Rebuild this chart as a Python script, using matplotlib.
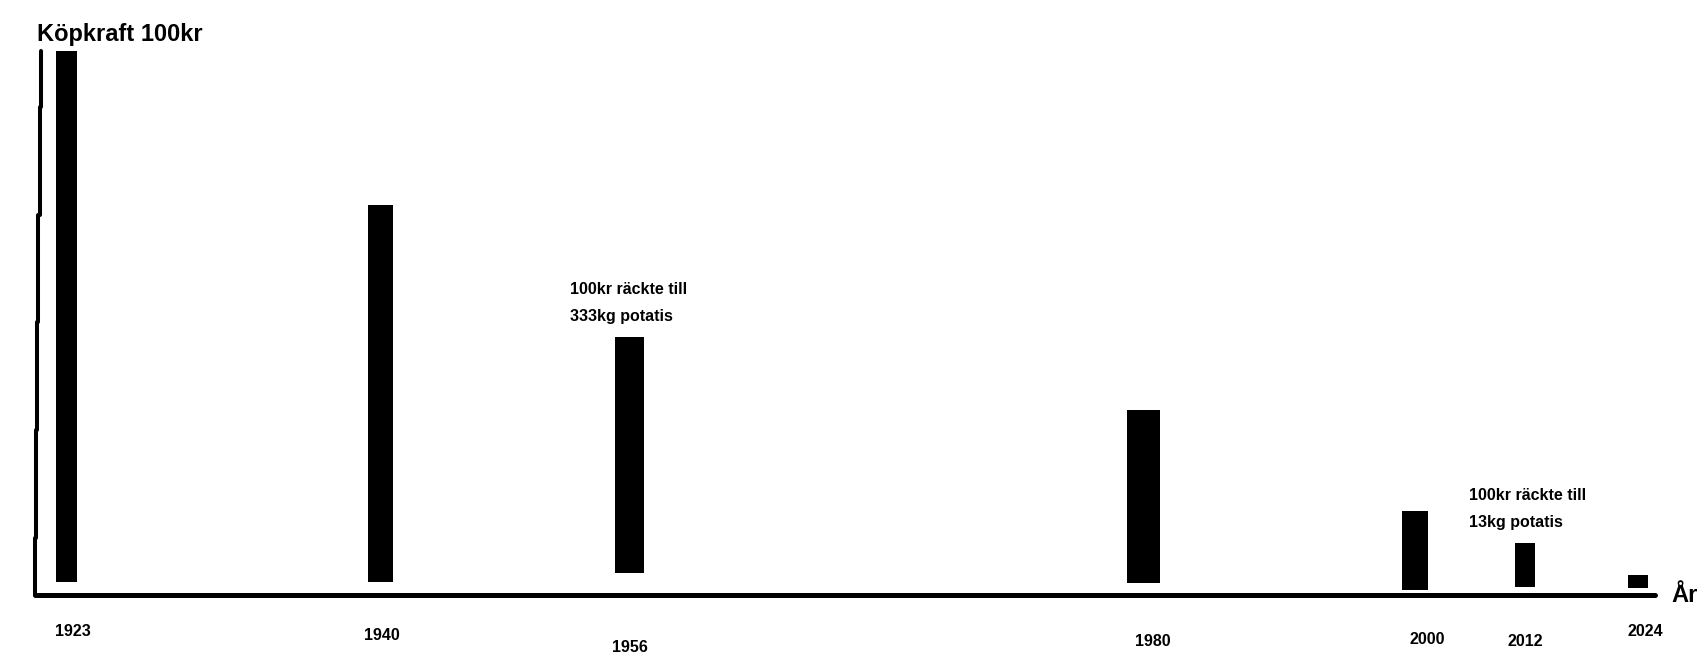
import matplotlib
matplotlib.use("Agg")
import matplotlib.pyplot as plt

plt.rcParams['font.family'] = ['Liberation Sans', 'DejaVu Sans']

# data (bar height in picture units)
years = ["1923", "1940", "1956", "1980", "2000", "2012", "2024"]
kopkraft = [531, 377, 236, 173, 79, 44, 13]

# hand drawn layout (pixel positions, y from top)
bar_x = [66.5, 380.5, 629.5, 1143.5, 1415, 1525, 1638]
bar_w = [21, 25, 29, 33, 26, 20, 20]
bar_base = [582, 582, 573, 583, 590, 587, 588]
label_x = [73, 382, 630, 1153, 1427, 1525, 1645]
label_y = [632, 636, 647, 642, 639, 642, 631]

# y axis drawn in a few shaky strokes
yaxis_x = [41.5, 40, 38.5, 37.5, 36.5, 35, 35]
yaxis_y = [51, 107, 215, 322, 430, 538, 595]

W, H = 1708, 665
fig = plt.figure(figsize=(W / 100, H / 100), dpi=100)
ax = fig.add_axes([0, 0, 1, 1])
ax.set_xlim(0, W)
ax.set_ylim(H, 0)
ax.axis('off')

#bars
ax.bar(bar_x, [-v for v in kopkraft], width=bar_w, bottom=bar_base, color='black')

#axes lines
for i in range(len(yaxis_x) - 1):
    ax.plot([yaxis_x[i], yaxis_x[i]], [yaxis_y[i], yaxis_y[i + 1]], color='black',
            lw=2.9, solid_capstyle='round')
ax.plot([35, 1655], [594.5, 594.5], color='black', lw=3.6, solid_capstyle='round')

#year labels
for x, y, t in zip(label_x, label_y, years):
    ax.text(x, y, t, ha='center', va='center', fontsize=11.5, fontweight='bold')

#titles
ax.text(37, 35, "Köpkraft 100kr", ha='left', va='center', fontsize=17, fontweight='bold')
ax.text(1671, 596, "År", ha='left', va='center', fontsize=17, fontweight='bold')

#notes
ax.text(570, 290, "100kr räckte till", ha='left', va='center', fontsize=11.5, fontweight='bold')
ax.text(570, 317, "333kg potatis", ha='left', va='center', fontsize=11.5, fontweight='bold')
ax.text(1469, 496, "100kr räckte till", ha='left', va='center', fontsize=11.5, fontweight='bold')
ax.text(1469, 522, "13kg potatis", ha='left', va='center', fontsize=11.5, fontweight='bold')

fig.savefig("out.png", dpi=100)
